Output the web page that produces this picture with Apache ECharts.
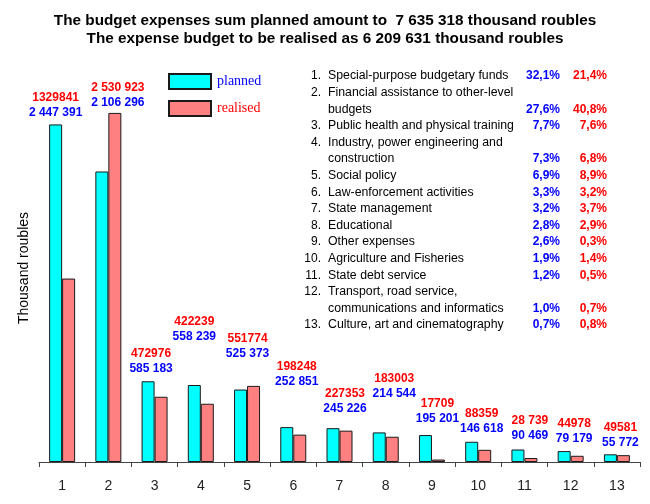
<!DOCTYPE html>
<html>
<head>
<meta charset="utf-8">
<script src="https://cdn.jsdelivr.net/npm/echarts@6/dist/echarts.min.js"></script>
<style>html,body{margin:0;padding:0;background:#fff;}#c{width:650px;height:504px;}</style>
</head>
<body>
<div id="c"></div>
<script>
const categories = ['1','2','3','4','5','6','7','8','9','10','11','12','13'];
const planned = [2447391, 2106296, 585183, 558239, 525373, 252851, 245226, 214544, 195201, 146618, 90469, 79179, 55772];
const realised = [1329841, 2530923, 472976, 422239, 551774, 198248, 227353, 183003, 17709, 88359, 28739, 44978, 49581];
const plannedText = ['2 447 391','2 106 296','585 183','558 239','525 373','252 851','245 226','214 544','195 201','146 618','90 469','79 179','55 772'];
const realisedText = ['1329841','2 530 923','472976','422239','551774','198248','227353','183003','17709','88359','28 739','44978','49581'];
const itemNames = [
  ['Special-purpose budgetary funds'],
  ['Financial assistance to other-level','budgets'],
  ['Public health and physical training'],
  ['Industry, power engineering and','construction'],
  ['Social policy'],
  ['Law-enforcement activities'],
  ['State management'],
  ['Educational'],
  ['Other expenses'],
  ['Agriculture and Fisheries'],
  ['State debt service'],
  ['Transport, road service,','communications and informatics'],
  ['Culture, art and cinematography']
];
const plannedShare = ['32,1%','27,6%','7,7%','7,3%','6,9%','3,3%','3,2%','2,8%','2,6%','1,9%','1,2%','1,0%','0,7%'];
const realisedShare = ['21,4%','40,8%','7,6%','6,8%','8,9%','3,2%','3,7%','2,9%','0,3%','1,4%','0,5%','0,7%','0,8%'];
const titleLines = ['The budget expenses sum planned amount to  7 635 318 thousand roubles','The expense budget to be realised as 6 209 631 thousand roubles'];
const yName = 'Thousand roubles';

// label placement tweaks (layout only)
const labelDx = [0,16,3,0,7,10,12,15,12,10,12,10,10];
const labelDy = [-4.5,-61.5,-5.5,-40.5,-28.5,-37.5,-11.5,-31.5,-8.5,-5.5,-6.5,-4.5,-4.5];

const FONT = 'Liberation Sans, Arial, sans-serif';
const BLUE = '#0000FF', RED = '#FF0000';

const graphics = [];
graphics.push({type:'text', x:24, y:268, rotation:Math.PI/2,
  style:{text:yName, font:'14px '+FONT, fill:'#000', align:'center', verticalAlign:'middle'}});
let line = 0;
const y0 = 76, step = 16.6;
itemNames.forEach((lines, i) => {
  const yFirst = y0 + line*step;
  graphics.push({type:'text', x:321, y:yFirst, style:{text:(i+1)+'.', font:'12px '+FONT, fill:'#000', align:'right', verticalAlign:'middle'}});
  lines.forEach((t, k) => {
    graphics.push({type:'text', x:328, y:y0+(line+k)*step, style:{text:t, font:'12.3px '+FONT, fill:'#000', align:'left', verticalAlign:'middle'}});
  });
  const yLast = y0 + (line+lines.length-1)*step;
  graphics.push({type:'text', x:560, y:yLast, style:{text:plannedShare[i], font:'bold 12px '+FONT, fill:BLUE, align:'right', verticalAlign:'middle'}});
  graphics.push({type:'text', x:607, y:yLast, style:{text:realisedShare[i], font:'bold 12px '+FONT, fill:RED, align:'right', verticalAlign:'middle'}});
  line += lines.length;
});

const chart = echarts.init(document.getElementById('c'), null, {renderer:'canvas'});
chart.setOption({
  animation:false,
  backgroundColor:'#fff',
  title:{text:titleLines.join('\n'), left:'center', top:7,
    textStyle:{fontFamily:FONT, fontSize:15.3, fontWeight:'bold', color:'#000', lineHeight:18}},
  legend:{orient:'vertical', left:163, top:68, itemWidth:42, itemHeight:15, itemGap:10,
    icon:'rect',
    textStyle:{fontFamily:'Liberation Serif, Times New Roman, serif', fontSize:14, padding:[0,0,0,1]},
    data:[{name:'planned', textStyle:{color:BLUE}},{name:'realised', textStyle:{color:RED}}]},
  grid:{left:39, right:10, top:62, bottom:42},
  xAxis:{type:'category', data:categories,
    axisLine:{show:true, lineStyle:{color:'#444', width:1}},
    axisTick:{show:true, interval:0, length:5, lineStyle:{color:'#444', width:1}},
    axisLabel:{color:'#222', fontFamily:FONT, fontSize:14, margin:17}},
  yAxis:{type:'value', min:0, max:2900000, show:false, splitLine:{show:false}},
  graphic:graphics,
  series:[
    {name:'planned', type:'bar', barWidth:13, barGap:'0%',
      itemStyle:{color:'#00FFFF', borderColor:'#1a1a1a', borderWidth:1},
      data:planned.map((v,i)=>({value:v, label:{offset:[labelDx[i], labelDy[i]]}})),
      label:{show:true, position:'top', distance:0,
        formatter:p => '{r|'+realisedText[p.dataIndex]+'}\n{b|'+plannedText[p.dataIndex]+'}',
        rich:{
          r:{color:RED, fontFamily:FONT, fontSize:12, fontWeight:'bold', lineHeight:15, align:'center'},
          b:{color:BLUE, fontFamily:FONT, fontSize:12, fontWeight:'bold', lineHeight:15, align:'center'}
        }}},
    {name:'realised', type:'bar', barWidth:13,
      itemStyle:{color:'#FF8080', borderColor:'#1a1a1a', borderWidth:1},
      data:realised}
  ]
});
</script>
</body>
</html>
